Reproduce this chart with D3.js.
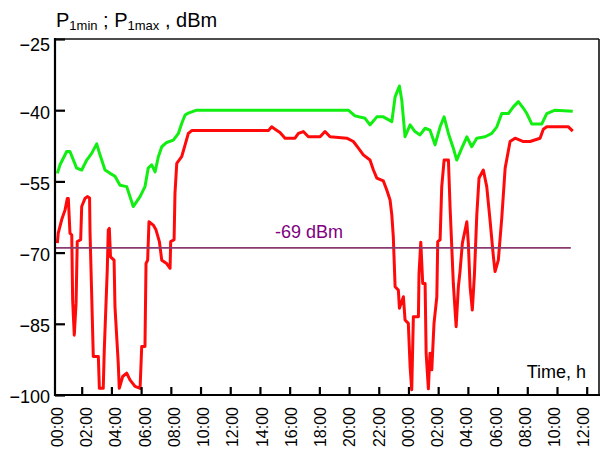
<!DOCTYPE html>
<html><head><meta charset="utf-8">
<script src="https://cdn.jsdelivr.net/npm/d3@7"></script>
<style>
body{margin:0;background:#fff}
svg{display:block}
text{font-family:Arial,"Liberation Sans",sans-serif;fill:#000}
</style>
</head><body>
<svg id="chart" width="602" height="457"></svg>
<script>
// ---- data (hours from start, dBm) ----
const yTickValues = [-25, -40, -55, -70, -85, -100];
const xTickHours = [0,2,4,6,8,10,12,14,16,18,20,22,24,26,28,30,32,34,36];
const xTickLabels = ["00:00","02:00","04:00","06:00","08:00","10:00","12:00","14:00","16:00","18:00","20:00","22:00","00:00","02:00","04:00","06:00","08:00","10:00","12:00"];
const thresholdValue = -69;
const thresholdLabel = "-69 dBm";
const thresholdEndHour = 34.93;

const p1maxHours = [0.36,0.54,0.99,1.21,1.66,2.00,2.34,2.67,3.01,3.23,3.57,3.91,4.24,4.58,5.03,5.47,5.93,6.26,6.48,6.71,6.94,7.16,7.39,7.72,8.17,8.51,8.73,8.96,9.18,9.74,19.95,20.40,21.08,21.41,21.87,22.31,22.88,23.10,23.39,23.55,23.77,24.11,24.44,24.78,25.12,25.45,25.79,26.13,26.40,26.69,27.02,27.25,27.59,27.93,28.26,28.60,29.16,29.61,29.95,30.28,30.73,31.06,31.40,31.74,31.97,32.30,32.98,33.31,33.87,35.06];
const p1maxValues = [-53.3,-51.5,-48.7,-48.7,-52.2,-52.6,-50.5,-49.1,-47.1,-49.4,-52.6,-53.3,-53.9,-55.8,-56.1,-60.3,-58.2,-56.1,-52.2,-51.5,-53.0,-49.8,-47.7,-46.8,-46.3,-44.9,-42.8,-41.0,-40.6,-40.0,-40.0,-41.2,-41.7,-43.1,-41.4,-41.4,-42.4,-37.2,-34.9,-37.9,-45.6,-43.1,-44.5,-45.2,-43.8,-44.2,-47.3,-43.5,-41.4,-44.9,-48.0,-50.5,-48.0,-45.6,-47.7,-45.9,-45.6,-44.9,-43.5,-40.7,-40.7,-39.3,-38.2,-39.6,-40.7,-42.9,-42.9,-40.7,-40.0,-40.2];

const p1minHours = [0.36,0.42,0.65,0.88,1.03,1.10,1.21,1.33,1.39,1.50,1.62,1.70,1.93,2.00,2.22,2.38,2.53,2.56,2.67,2.78,3.12,3.19,3.45,3.52,3.72,3.79,3.86,3.94,4.18,4.24,4.46,4.53,4.76,5.03,5.25,5.59,5.93,6.04,6.26,6.33,6.44,6.53,6.82,7.00,7.23,7.39,7.72,7.95,7.99,8.22,8.28,8.40,8.73,8.96,9.18,9.41,14.57,14.79,15.02,15.35,15.69,16.36,16.59,16.92,17.26,18.05,18.38,18.72,19.85,20.29,20.63,20.96,21.41,21.64,21.87,22.31,22.54,22.76,22.88,22.98,23.10,23.32,23.39,23.66,23.77,23.99,24.11,24.22,24.33,24.67,24.71,24.83,24.96,25.12,25.19,25.34,25.45,25.57,25.72,25.91,25.97,26.13,26.24,26.40,26.69,26.80,27.02,27.21,27.36,27.47,27.63,27.93,28.03,28.15,28.30,28.44,28.60,28.75,29.04,29.27,29.49,29.72,29.83,30.05,30.28,30.51,30.84,31.18,31.74,32.19,32.86,33.08,33.31,34.77,35.06];
const p1minValues = [-68.0,-65.9,-63.1,-61.0,-58.6,-58.6,-65.9,-66.3,-80.0,-87.4,-80.7,-67.7,-67.3,-60.3,-58.6,-58.2,-58.5,-65.6,-78.6,-91.9,-91.9,-98.6,-98.6,-90.5,-73.7,-65.2,-64.9,-70.9,-71.6,-81.4,-93.3,-98.6,-96.1,-95.4,-96.8,-98.2,-98.6,-89.8,-89.8,-72.3,-71.6,-63.5,-64.2,-65.2,-67.7,-71.6,-72.3,-73.3,-67.7,-67.3,-57.5,-51.2,-49.8,-47.3,-44.9,-44.3,-44.3,-43.5,-44.0,-44.7,-45.9,-45.9,-44.9,-44.5,-45.6,-45.6,-44.5,-45.6,-45.9,-46.6,-48.0,-49.4,-50.5,-52.6,-54.3,-54.9,-56.8,-58.9,-62.1,-66.7,-77.2,-77.9,-81.7,-79.3,-84.2,-84.9,-94.0,-98.9,-83.5,-83.5,-74.4,-67.8,-76.5,-76.5,-91.2,-98.7,-91.2,-94.7,-84.9,-79.3,-67.7,-67.3,-56.1,-50.5,-50.5,-60.3,-76.5,-85.6,-77.2,-74.0,-68.0,-63.5,-68.0,-77.2,-82.1,-74.7,-62.1,-54.3,-52.6,-56.1,-63.1,-70.9,-74.0,-71.6,-62.8,-52.2,-46.6,-45.9,-46.6,-46.6,-45.9,-44.0,-43.5,-43.5,-44.4];

// ---- layout ----
const svg = d3.select("#chart");
const plotLeft = 55, plotRight = 599, plotTop = 39, plotBottom = 395;

const x = d3.scaleLinear().domain([0, 36]).range([52, 586.7]);
const xLab = d3.scaleLinear().domain([0, 36]).range([57, 583.5]);
const y = d3.scaleLinear().domain([-100, -25]).range([plotBottom, plotTop]);

// title
const title = svg.append("text").attr("x", 56).attr("y", 27).style("font-size", "20px");
title.append("tspan").text("P");
title.append("tspan").attr("dy", 3).style("font-size", "13px").text("1min");
title.append("tspan").attr("dy", -3).text(" ; P");
title.append("tspan").attr("dy", 3).style("font-size", "13px").text("1max");
title.append("tspan").attr("dy", -3).text(" , dBm");

// lines
const pMin = p1minHours.map((h, i) => [h, p1minValues[i]]);
const pMax = p1maxHours.map((h, i) => [h, p1maxValues[i]]);
const line = d3.line().x(d => x(d[0])).y(d => y(d[1]));

svg.append("path").datum(pMax).attr("d", line)
  .attr("fill", "none").attr("stroke", "#11ee11").attr("stroke-width", 3)
  .attr("stroke-linejoin", "round");
svg.append("path").datum(pMin).attr("d", line)
  .attr("fill", "none").attr("stroke", "#ff0a0a").attr("stroke-width", 3)
  .attr("stroke-linejoin", "round");

// threshold
svg.append("line")
  .attr("x1", plotLeft).attr("x2", x(thresholdEndHour))
  .attr("y1", y(thresholdValue)).attr("y2", y(thresholdValue))
  .attr("stroke", "#8a3a6e").attr("stroke-width", 1.6);
svg.append("text").attr("x", 309).attr("y", y(thresholdValue) - 10)
  .attr("text-anchor", "middle").style("font-size", "18px").style("fill", "#800080")
  .text(thresholdLabel);

// y axis
const yAxis = d3.axisLeft(y).tickValues(yTickValues).tickSize(-10).tickSizeOuter(0).tickPadding(5);
const gy = svg.append("g").attr("transform", `translate(${plotLeft},0)`).call(yAxis);
gy.select(".domain").remove();
gy.selectAll(".tick line").attr("stroke", "#000").attr("stroke-width", 2.2);
gy.selectAll(".tick text").style("font-size", "18px").attr("font-family", null)
  .attr("dy", d => d === -25 ? "0.62em" : "0.44em");

// x axis (ticks)
const xAxis = d3.axisBottom(x).tickValues(xTickHours).tickSize(-8).tickSizeOuter(0).tickFormat("");
const gx = svg.append("g").attr("transform", `translate(0,${plotBottom})`).call(xAxis);
gx.select(".domain").remove();
gx.selectAll(".tick line").attr("stroke", "#000").attr("stroke-width", 2.2)
  .attr("display", d => x(d) < plotLeft ? "none" : null);

// x labels (rotated)
svg.append("g").selectAll("text").data(xTickHours).join("text")
  .attr("transform", d => `translate(${xLab(d)},407) rotate(-90)`)
  .attr("dy", "0.36em").attr("text-anchor", "end").style("font-size", "16px")
  .text((d, i) => xTickLabels[i]);

// frame
svg.append("line").attr("x1", plotLeft).attr("x2", plotRight).attr("y1", plotTop).attr("y2", plotTop)
  .attr("stroke", "#111").attr("stroke-width", 1.6);
svg.append("line").attr("x1", plotRight).attr("x2", plotRight).attr("y1", plotTop).attr("y2", plotBottom)
  .attr("stroke", "#111").attr("stroke-width", 1.6);
svg.append("line").attr("x1", plotLeft).attr("x2", plotLeft).attr("y1", plotTop - 1).attr("y2", plotBottom + 1)
  .attr("stroke", "#000").attr("stroke-width", 2.2);
svg.append("line").attr("x1", plotLeft - 1).attr("x2", plotRight + 1).attr("y1", plotBottom).attr("y2", plotBottom)
  .attr("stroke", "#000").attr("stroke-width", 2.2);

// axis title
svg.append("text").attr("x", 586).attr("y", 378).attr("text-anchor", "end")
  .style("font-size", "18px").text("Time, h");
</script>
</body></html>
